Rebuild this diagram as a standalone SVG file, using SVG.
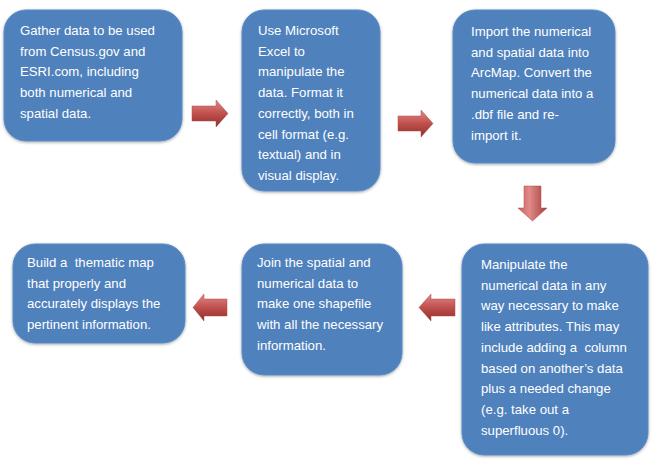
<svg xmlns="http://www.w3.org/2000/svg" width="661" height="468" viewBox="0 0 661 468">
<defs>
<linearGradient id="gh" x1="0" y1="0" x2="0" y2="1">
<stop offset="0" stop-color="#e08a88"/>
<stop offset="0.5" stop-color="#c0504d"/>
<stop offset="1" stop-color="#8e2f2c"/>
</linearGradient>
<linearGradient id="gv" x1="0" y1="0" x2="1" y2="0">
<stop offset="0" stop-color="#c9605d"/>
<stop offset="0.4" stop-color="#e08a88"/>
<stop offset="1" stop-color="#a63c39"/>
</linearGradient>
<filter id="sh" x="-10%" y="-10%" width="120%" height="120%">
<feGaussianBlur in="SourceAlpha" stdDeviation="1.5"/>
<feOffset dx="0" dy="1" result="b"/>
<feComponentTransfer><feFuncA type="linear" slope="0.35"/></feComponentTransfer>
<feMerge><feMergeNode/><feMergeNode in="SourceGraphic"/></feMerge>
</filter>
</defs>
<style>
.box{fill:#4f81bd;stroke:#5a8ac4;stroke-width:1;filter:url(#sh)}
.t{font-family:"Liberation Sans",Arial,sans-serif;font-size:13.2px;fill:#ffffff;white-space:pre}
.ah{fill:url(#gh);stroke:#b04845;stroke-width:0.5}
.av{fill:url(#gv);stroke:#b04845;stroke-width:0.5}
</style>
<rect width="661" height="468" fill="#ffffff"/>
<g id="node1">
<rect class="box" x="4" y="10" width="178" height="131" rx="22"/>
<text class="t">
<tspan x="20" y="35">Gather data to be used</tspan>
<tspan x="20" y="55.7">from Census.gov and</tspan>
<tspan x="20" y="76.4">ESRI.com, including</tspan>
<tspan x="20" y="97.1">both numerical and</tspan>
<tspan x="20" y="117.8">spatial data.</tspan>
</text>
</g>
<g id="node2">
<rect class="box" x="242" y="10" width="138" height="181" rx="22"/>
<text class="t">
<tspan x="258" y="35">Use Microsoft</tspan>
<tspan x="258" y="55.7">Excel to</tspan>
<tspan x="258" y="76.4">manipulate the</tspan>
<tspan x="258" y="97.1">data. Format it</tspan>
<tspan x="258" y="117.8">correctly, both in</tspan>
<tspan x="258" y="138.5">cell format (e.g.</tspan>
<tspan x="258" y="159.2">textual) and in</tspan>
<tspan x="258" y="179.9">visual display.</tspan>
</text>
</g>
<g id="node3">
<rect class="box" x="453" y="10" width="162" height="153" rx="22"/>
<text class="t">
<tspan x="471" y="36">Import the numerical</tspan>
<tspan x="471" y="56.7">and spatial data into</tspan>
<tspan x="471" y="77.4">ArcMap. Convert the</tspan>
<tspan x="471" y="98.1">numerical data into a</tspan>
<tspan x="471" y="118.8">.dbf file and re-</tspan>
<tspan x="471" y="139.5">import it.</tspan>
</text>
</g>
<g id="node4">
<rect class="box" x="462" y="244" width="186" height="211" rx="22"/>
<text class="t">
<tspan x="481" y="269">Manipulate the</tspan>
<tspan x="481" y="289.7">numerical data in any</tspan>
<tspan x="481" y="310.4">way necessary to make</tspan>
<tspan x="481" y="331.1">like attributes. This may</tspan>
<tspan x="481" y="351.8">include adding a  column</tspan>
<tspan x="481" y="372.5">based on another’s data</tspan>
<tspan x="481" y="393.2">plus a needed change</tspan>
<tspan x="481" y="413.9">(e.g. take out a</tspan>
<tspan x="481" y="434.6">superfluous 0).</tspan>
</text>
</g>
<g id="node5">
<rect class="box" x="242" y="244" width="160" height="131" rx="22"/>
<text class="t">
<tspan x="257" y="267">Join the spatial and</tspan>
<tspan x="257" y="287.7">numerical data to</tspan>
<tspan x="257" y="308.4">make one shapefile</tspan>
<tspan x="257" y="329.1">with all the necessary</tspan>
<tspan x="257" y="349.8">information.</tspan>
</text>
</g>
<g id="node6">
<rect class="box" x="13" y="244" width="172" height="99" rx="22"/>
<text class="t">
<tspan x="27" y="267">Build a  thematic map</tspan>
<tspan x="27" y="287.7">that properly and</tspan>
<tspan x="27" y="308.4">accurately displays the</tspan>
<tspan x="27" y="329.1">pertinent information.</tspan>
</text>
</g>
<g id="connectors">
<path class="ah" d="M192,106 L216,106 L216,100 L228,113.5 L216,127 L216,121 L192,121 Z"/>
<path class="ah" d="M398,116 L421,116 L421,110 L433,123.5 L421,137 L421,131 L398,131 Z"/>
<path class="av" d="M524,186 L541,186 L541,208 L547,208 L532.5,221 L518,208 L524,208 Z"/>
<path class="ah" d="M455,299 L431,299 L431,294 L419,307.5 L431,321 L431,316 L455,316 Z"/>
<path class="ah" d="M227,299 L204,299 L204,294 L193,307.5 L204,321 L204,316 L227,316 Z"/>
</g>
</svg>
